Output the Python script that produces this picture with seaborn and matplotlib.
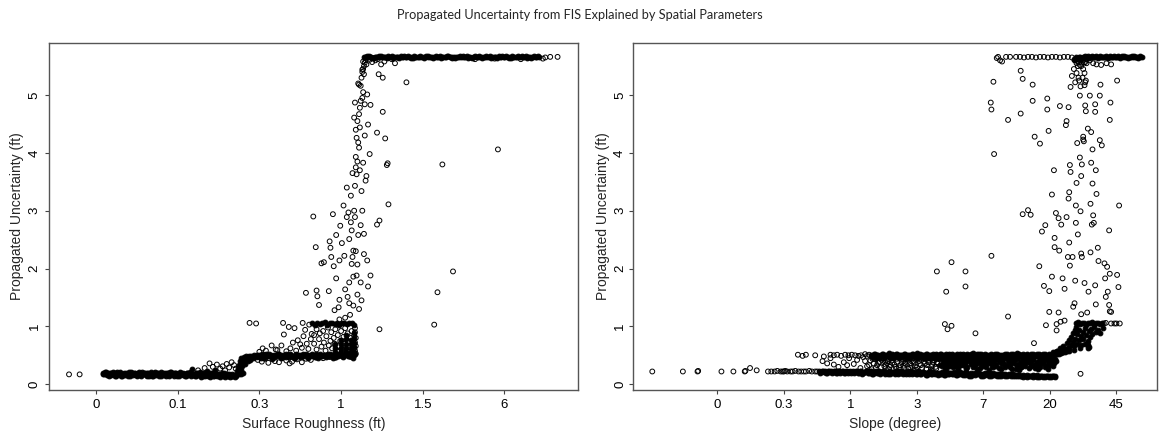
import numpy as np
import pandas as pd
import matplotlib
matplotlib.use("Agg")
import matplotlib.pyplot as plt
import seaborn as sns

# ---------------------------------------------------------------------------
# Axis labelling (x positions are on an ordinal-style axis: tick k sits at k)
# ---------------------------------------------------------------------------
title = "Propagated Uncertainty from FIS Explained by Spatial Parameters"
ylab = "Propagated Uncertainty (ft)"
rough_xlabel = "Surface Roughness (ft)"
slope_xlabel = "Slope (degree)"
rough_tick_labels = ["0", "0.1", "0.3", "1", "1.5", "6"]
slope_tick_labels = ["0", "0.3", "1", "3", "7", "20", "45"]
y_ticks = [0, 1, 2, 3, 4, 5]

# ---------------------------------------------------------------------------
# Left panel: surface roughness position vs propagated uncertainty
# ---------------------------------------------------------------------------
rough_isolated = [(-0.33, 0.17), (-0.20, 0.17)]

rough_low_x = [0.08, 0.10, 0.12, 0.14, 0.16, 0.18, 0.20, 0.22, 0.24, 0.26,
               0.28, 0.30, 0.32, 0.34, 0.36, 0.38, 0.40, 0.42, 0.44, 0.46,
               0.48, 0.50, 0.52, 0.54, 0.56, 0.58, 0.60, 0.62, 0.64, 0.66,
               0.68, 0.70, 0.72, 0.74, 0.76, 0.78, 0.80, 0.82, 0.84, 0.86,
               0.88, 0.90, 0.92, 0.94, 0.96, 0.98, 1.00, 1.02, 1.04, 1.06,
               1.08, 1.10, 1.12, 1.14, 1.16, 1.18, 1.20, 1.22, 1.24, 1.26,
               1.28, 1.30, 1.32, 1.34, 1.36, 1.38, 1.40, 1.42, 1.44, 1.46,
               1.48, 1.50, 1.52, 1.54, 1.56, 1.58, 1.60, 1.62, 1.64, 1.66,
               1.68, 1.70, 1.72]
rough_low_u = [0.20, 0.17, 0.21, 0.18, 0.15, 0.20, 0.17, 0.19, 0.15, 0.21,
               0.17, 0.19, 0.14, 0.20, 0.16, 0.18, 0.21, 0.15, 0.19, 0.17,
               0.20, 0.14, 0.18, 0.16, 0.21, 0.17, 0.19, 0.15, 0.20, 0.17,
               0.18, 0.14, 0.21, 0.16, 0.19, 0.17, 0.15, 0.20, 0.18, 0.14,
               0.19, 0.16, 0.21, 0.17, 0.15, 0.19, 0.18, 0.14, 0.20, 0.16,
               0.18, 0.15, 0.19, 0.17, 0.14, 0.27, 0.18, 0.15, 0.20, 0.16,
               0.13, 0.19, 0.17, 0.14, 0.22, 0.16, 0.13, 0.19, 0.15, 0.25,
               0.14, 0.17, 0.13, 0.20, 0.15, 0.13, 0.18, 0.14, 0.13, 0.17,
               0.14, 0.13, 0.16]
rough_low2_x = [0.09, 0.11, 0.13, 0.15, 0.17, 0.19, 0.21, 0.23, 0.25, 0.27,
                0.29, 0.31, 0.33, 0.35, 0.37, 0.39, 0.41, 0.43, 0.45, 0.47,
                0.49, 0.51, 0.53, 0.55, 0.57, 0.59, 0.61, 0.63, 0.65, 0.67,
                0.69, 0.71, 0.73, 0.75, 0.77, 0.79, 0.81, 0.83, 0.85, 0.87,
                0.89, 0.91, 0.93, 0.95, 0.97, 0.99, 1.01, 1.03, 1.05, 1.07,
                1.09, 1.11, 1.13, 1.15, 1.17, 1.19, 1.21, 1.23, 1.25, 1.27,
                1.29, 1.31, 1.33, 1.35, 1.37, 1.39, 1.41, 1.43, 1.45, 1.47,
                1.49, 1.51, 1.53, 1.55, 1.57, 1.59, 1.61, 1.63, 1.65, 1.67,
                1.69, 1.71]
rough_low2_u = [0.18, 0.21, 0.16, 0.19, 0.20, 0.16, 0.21, 0.15, 0.19, 0.17,
                0.21, 0.15, 0.18, 0.17, 0.20, 0.14, 0.18, 0.21, 0.16, 0.20,
                0.16, 0.19, 0.21, 0.14, 0.18, 0.20, 0.16, 0.19, 0.15, 0.21,
                0.15, 0.19, 0.17, 0.20, 0.14, 0.21, 0.18, 0.16, 0.20, 0.19,
                0.15, 0.21, 0.17, 0.19, 0.20, 0.15, 0.16, 0.21, 0.17, 0.19,
                0.14, 0.20, 0.16, 0.21, 0.18, 0.16, 0.14, 0.19, 0.17, 0.21,
                0.17, 0.14, 0.20, 0.18, 0.15, 0.19, 0.17, 0.14, 0.21, 0.16,
                0.18, 0.14, 0.16, 0.17, 0.19, 0.16, 0.14, 0.17, 0.15, 0.14,
                0.16, 0.14]

rough_low_scatter = [(1.25, 0.24), (1.33, 0.28), (1.39, 0.36), (1.43, 0.30),
                     (1.48, 0.34), (1.52, 0.27), (1.55, 0.31), (1.58, 0.24),
                     (1.60, 0.35), (1.63, 0.29), (1.66, 0.38), (1.69, 0.33),
                     (1.71, 0.27)]

rough_step = [(1.73, 0.22), (1.74, 0.28), (1.75, 0.34), (1.76, 0.40), (1.77, 0.25),
              (1.78, 0.45), (1.79, 0.31), (1.80, 0.38), (1.81, 0.47), (1.82, 0.42),
              (1.83, 0.35), (1.84, 0.48), (1.85, 0.44), (1.86, 0.40), (1.87, 0.49),
              (1.88, 0.46), (1.89, 0.42), (1.90, 0.48), (1.92, 0.45), (1.94, 0.50),
              (1.75, 0.18), (1.78, 0.17), (1.80, 0.20)]

rough_mid_x = [1.96, 1.99, 2.02, 2.05, 2.08, 2.11, 2.14, 2.17, 2.20, 2.23,
               2.26, 2.29, 2.32, 2.35, 2.38, 2.41, 2.44, 2.47, 2.50, 2.53,
               2.56, 2.59, 2.62, 2.65, 2.68, 2.71, 2.74, 2.77, 2.80, 2.83,
               2.86, 2.89, 2.92, 2.95, 2.98, 3.01, 3.04, 3.07, 3.10, 3.13,
               3.16]
rough_mid_u = [0.47, 0.50, 0.45, 0.49, 0.52, 0.48, 0.51, 0.46, 0.50, 0.53,
               0.48, 0.51, 0.47, 0.50, 0.52, 0.49, 0.46, 0.51, 0.50, 0.53,
               0.48, 0.51, 0.49, 0.52, 0.47, 0.50, 0.53, 0.49, 0.51, 0.48,
               0.52, 0.50, 0.47, 0.51, 0.53, 0.49, 0.50, 0.52, 0.48, 0.51,
               0.50]
rough_mid2_x = [1.97, 2.00, 2.03, 2.06, 2.09, 2.12, 2.15, 2.18, 2.21, 2.24,
                2.27, 2.30, 2.33, 2.36, 2.39, 2.42, 2.45, 2.48, 2.51, 2.54,
                2.57, 2.60, 2.63, 2.66, 2.69, 2.72, 2.75, 2.78, 2.81, 2.84,
                2.87, 2.90, 2.93, 2.96, 2.99, 3.02, 3.05, 3.08, 3.11, 3.14,
                3.17]
rough_mid2_u = [0.51, 0.47, 0.52, 0.46, 0.49, 0.53, 0.45, 0.50, 0.48, 0.52,
                0.46, 0.49, 0.53, 0.47, 0.50, 0.45, 0.52, 0.48, 0.47, 0.50,
                0.53, 0.46, 0.51, 0.48, 0.52, 0.46, 0.49, 0.51, 0.47, 0.53,
                0.49, 0.46, 0.52, 0.48, 0.50, 0.47, 0.53, 0.49, 0.51, 0.46,
                0.52]

rough_below_mid = [(1.98, 0.42), (2.03, 0.39), (2.07, 0.44), (2.11, 0.37), (2.16, 0.43),
                   (2.19, 0.40), (2.24, 0.38), (2.28, 0.45), (2.33, 0.41), (2.37, 0.36),
                   (2.40, 0.39), (2.46, 0.43), (2.52, 0.38), (2.57, 0.44), (2.63, 0.42),
                   (2.70, 0.46), (2.78, 0.45), (2.86, 0.47), (2.94, 0.46), (3.03, 0.48),
                   (3.12, 0.47)]

rough_above_mid = [(1.88, 1.06), (1.96, 1.05), (2.00, 0.56), (2.04, 0.62), (2.08, 0.58),
                   (2.15, 0.67), (2.20, 0.60), (2.22, 0.59), (2.27, 0.67), (2.29, 1.06),
                   (2.30, 0.86), (2.33, 0.57), (2.36, 0.99), (2.38, 0.62), (2.41, 0.72),
                   (2.43, 0.97), (2.45, 0.58), (2.47, 0.76), (2.50, 0.69), (2.52, 0.63),
                   (2.53, 1.06), (2.54, 0.83), (2.56, 0.94), (2.58, 0.70), (2.60, 0.61),
                   (2.61, 1.03), (2.63, 0.78), (2.64, 0.87)]

rough_one_x = [2.65, 2.68, 2.71, 2.74, 2.77, 2.80, 2.83, 2.86, 2.89, 2.92,
               2.95, 2.98, 3.01, 3.04, 3.07, 3.10, 3.13, 3.16]
rough_one_u = [1.05, 1.03, 1.06, 1.04, 1.05, 1.07, 1.03, 1.05, 1.06, 1.04,
               1.05, 1.03, 1.06, 1.05, 1.04, 1.06, 1.05, 1.03]

rough_columns = [(2.67, 0.85), (2.67, 0.70), (2.70, 0.95), (2.70, 0.60), (2.73, 0.78),
                 (2.74, 0.88), (2.76, 0.65), (2.78, 0.92), (2.79, 0.72), (2.81, 0.58),
                 (2.82, 0.83), (2.84, 0.98), (2.85, 0.67), (2.87, 0.75), (2.88, 0.90),
                 (2.89, 0.62), (2.91, 0.80), (2.92, 0.70), (2.93, 0.95), (2.95, 0.57),
                 (2.96, 0.85), (2.97, 0.66), (2.99, 0.75), (3.00, 0.92), (3.01, 0.61),
                 (3.03, 0.82), (3.04, 0.70), (3.05, 0.97), (3.07, 0.58), (3.08, 0.88),
                 (3.09, 0.74), (3.10, 0.64), (3.12, 0.80), (3.13, 0.92), (3.14, 0.56),
                 (3.15, 0.68), (3.15, 0.76), (3.16, 0.84), (3.16, 0.62), (3.17, 0.90),
                 (3.17, 0.97), (3.17, 0.72), (3.17, 0.58), (3.18, 0.53), (3.18, 0.80),
                 (3.18, 0.66)]

rough_dense_columns = [(2.92, 0.56), (2.92, 0.63), (2.92, 0.70), (3.00, 0.55), (3.00, 0.62),
                       (3.00, 0.69), (3.00, 0.76), (3.06, 0.56), (3.06, 0.63), (3.06, 0.70),
                       (3.06, 0.78), (3.06, 0.85), (3.12, 0.55), (3.12, 0.62), (3.12, 0.69),
                       (3.12, 0.76), (3.16, 0.56), (3.16, 0.64), (3.16, 0.72), (3.16, 0.80),
                       (3.16, 0.88)]

rough_rise = [(2.66, 2.90), (2.69, 2.37), (2.57, 1.58), (2.70, 1.62), (2.71, 1.52),
              (2.73, 1.37), (2.76, 2.09), (2.79, 2.11), (2.85, 1.61), (2.86, 2.47),
              (2.87, 2.36), (2.88, 2.20), (2.90, 2.94), (2.91, 2.04), (2.92, 1.28),
              (2.94, 2.58), (2.94, 1.83), (2.97, 1.33), (2.98, 2.14), (2.98, 1.46),
              (2.99, 2.74), (3.01, 2.44), (3.03, 3.09), (3.04, 2.22), (3.05, 1.64),
              (3.07, 2.89), (3.08, 1.51), (3.09, 2.97), (3.10, 2.51), (3.10, 1.40),
              (3.12, 2.80), (3.13, 2.08), (3.13, 2.66), (3.15, 2.31), (3.15, 1.36),
              (3.16, 3.00), (3.17, 3.43), (3.18, 3.75), (3.18, 3.93), (3.19, 3.63),
              (3.21, 4.18), (3.22, 4.67), (3.23, 4.44), (3.24, 4.90), (3.24, 5.16),
              (3.25, 3.34), (3.26, 3.00), (3.27, 3.83), (3.28, 2.60), (3.28, 5.36),
              (3.29, 4.84), (3.30, 3.52), (3.31, 5.53), (3.32, 5.01), (3.33, 4.49),
              (3.32, 2.14), (3.28, 2.25), (3.17, 2.89), (3.07, 3.40), (3.12, 3.26),
              (3.19, 4.26), (3.16, 4.61), (3.17, 4.87), (3.22, 4.09), (3.22, 5.18),
              (3.26, 5.44), (3.19, 1.88), (3.24, 1.76), (3.15, 1.86), (3.10, 1.76),
              (3.20, 2.07), (3.20, 4.55), (3.23, 4.78), (3.26, 4.95), (3.21, 5.20),
              (3.25, 5.30), (3.27, 5.05), (3.18, 4.40), (3.20, 3.85), (3.14, 3.65),
              (3.23, 3.70), (3.29, 4.30), (3.31, 3.60), (3.24, 2.75), (3.21, 2.58),
              (3.18, 2.30), (3.14, 2.20), (3.20, 1.55), (3.11, 1.20), (3.05, 1.15),
              (2.98, 1.12), (3.22, 1.30), (3.25, 1.45)]

rough_outliers = [(3.35, 3.98), (3.36, 4.83), (3.36, 1.88), (3.33, 1.69), (3.44, 4.35),
                  (3.44, 2.76), (3.47, 2.83), (3.46, 5.36), (3.51, 5.30), (3.51, 4.71),
                  (3.54, 4.25), (3.56, 3.79), (3.57, 3.82), (3.58, 3.11), (3.47, 0.95),
                  (3.66, 5.55), (3.80, 5.22), (4.14, 1.03), (4.18, 1.59), (4.24, 3.80),
                  (4.37, 1.95), (4.92, 4.06)]

rough_top_x = [3.28, 3.31, 3.34, 3.37, 3.40, 3.43, 3.46, 3.49, 3.52, 3.55,
               3.58, 3.61, 3.64, 3.67, 3.70, 3.73, 3.76, 3.79, 3.82, 3.85,
               3.88, 3.91, 3.94, 3.97, 4.00, 4.03, 4.06, 4.09, 4.12, 4.15,
               4.18, 4.21, 4.24, 4.27, 4.30, 4.33, 4.36, 4.39, 4.42, 4.45,
               4.48, 4.51, 4.54, 4.57, 4.60, 4.63, 4.66, 4.69, 4.72, 4.75,
               4.78, 4.81, 4.84, 4.87, 4.90, 4.93, 4.96, 4.99, 5.02, 5.05,
               5.08, 5.11, 5.14, 5.17, 5.20, 5.23, 5.26, 5.29, 5.32, 5.35,
               5.38, 5.41]
rough_top_u = [5.66, 5.65, 5.67, 5.66, 5.64, 5.66, 5.65, 5.67, 5.66, 5.65,
               5.67, 5.66, 5.64, 5.66, 5.65, 5.67, 5.66, 5.65, 5.67, 5.66,
               5.64, 5.66, 5.65, 5.67, 5.66, 5.65, 5.67, 5.66, 5.64, 5.66,
               5.65, 5.67, 5.66, 5.65, 5.67, 5.66, 5.64, 5.66, 5.65, 5.67,
               5.66, 5.65, 5.67, 5.66, 5.64, 5.66, 5.65, 5.67, 5.66, 5.65,
               5.67, 5.66, 5.64, 5.66, 5.65, 5.67, 5.66, 5.65, 5.67, 5.66,
               5.64, 5.66, 5.65, 5.67, 5.66, 5.65, 5.67, 5.66, 5.64, 5.66,
               5.65, 5.67]
rough_top2_x = [3.29, 3.32, 3.35, 3.38, 3.41, 3.44, 3.47, 3.50, 3.53, 3.56,
                3.59, 3.62, 3.65, 3.68, 3.71, 3.74, 3.77, 3.80, 3.83, 3.86,
                3.89, 3.92, 3.95, 3.98, 4.01, 4.04, 4.07, 4.10, 4.13, 4.16,
                4.19, 4.22, 4.25, 4.28, 4.31, 4.34, 4.37, 4.40, 4.43, 4.46,
                4.49, 4.52, 4.55, 4.58, 4.61, 4.64, 4.67, 4.70, 4.73, 4.76,
                4.79, 4.82, 4.85, 4.88, 4.91, 4.94, 4.97, 5.00, 5.03, 5.06,
                5.09, 5.12, 5.15, 5.18, 5.21, 5.24, 5.27, 5.30, 5.33, 5.36,
                5.39, 5.42]
rough_top2_u = [5.65, 5.67, 5.66, 5.64, 5.66, 5.65, 5.67, 5.66, 5.65, 5.64,
                5.66, 5.67, 5.65, 5.66, 5.64, 5.66, 5.67, 5.65, 5.66, 5.64,
                5.67, 5.65, 5.66, 5.66, 5.64, 5.67, 5.65, 5.66, 5.65, 5.67,
                5.66, 5.64, 5.65, 5.66, 5.67, 5.65, 5.66, 5.64, 5.66, 5.65,
                5.67, 5.66, 5.64, 5.65, 5.66, 5.67, 5.65, 5.66, 5.64, 5.66,
                5.65, 5.67, 5.66, 5.65, 5.64, 5.66, 5.67, 5.65, 5.66, 5.64,
                5.67, 5.65, 5.66, 5.65, 5.67, 5.66, 5.64, 5.65, 5.66, 5.67,
                5.65, 5.66]

rough_top_end = [(5.50, 5.65), (5.56, 5.66), (5.65, 5.66)]

rough_top_below = [(3.35, 5.61), (3.38, 5.57), (3.42, 5.60), (3.49, 5.53), (3.53, 5.58),
                   (3.62, 5.62), (4.64, 5.62), (4.88, 5.63), (5.20, 5.62), (5.47, 5.63),
                   (3.27, 5.45), (3.28, 5.50), (3.29, 5.56), (3.30, 5.60), (3.27, 5.58),
                   (3.31, 5.63), (3.26, 5.40), (3.40, 5.64), (3.45, 5.62)]

# ---------------------------------------------------------------------------
# Right panel: slope position vs propagated uncertainty
# ---------------------------------------------------------------------------
slope_low_sparse_x = [-0.98, -0.52, -0.30, -0.29, 0.06, 0.24, 0.41, 0.42, 0.49, 0.59,
                      0.76, 0.81, 0.86, 0.90, 0.95, 0.98, 1.00, 1.02, 1.05, 1.10,
                      1.13, 1.17, 1.22, 1.26, 1.30, 1.33, 1.38, 1.42, 1.47, 1.50]
slope_low_sparse_u = [0.22, 0.22, 0.22, 0.23, 0.22, 0.22, 0.22, 0.23, 0.28, 0.24,
                      0.22, 0.22, 0.22, 0.23, 0.22, 0.22, 0.22, 0.23, 0.22, 0.22,
                      0.22, 0.23, 0.22, 0.22, 0.22, 0.22, 0.23, 0.22, 0.22, 0.22]

slope_low_x = [1.53, 1.56, 1.59, 1.62, 1.65, 1.68, 1.71, 1.74, 1.77, 1.80,
               1.83, 1.86, 1.89, 1.92, 1.95, 1.98, 2.01, 2.04, 2.07, 2.10,
               2.13, 2.16, 2.19, 2.22, 2.25, 2.28, 2.31, 2.34, 2.37, 2.40,
               2.43, 2.46, 2.49, 2.52, 2.55, 2.58, 2.61, 2.64, 2.67, 2.70,
               2.73, 2.76, 2.79, 2.82, 2.85, 2.88, 2.91, 2.94, 2.97, 3.00,
               3.03, 3.06, 3.09, 3.12, 3.15, 3.18, 3.21, 3.24, 3.27, 3.30,
               3.33, 3.36, 3.39, 3.42, 3.45, 3.48, 3.51, 3.54, 3.57, 3.60,
               3.63, 3.66, 3.69, 3.72, 3.75, 3.78, 3.81, 3.84, 3.87, 3.90,
               3.93, 3.96, 3.99, 4.02, 4.05, 4.08, 4.11, 4.14, 4.17, 4.20,
               4.23, 4.26, 4.29, 4.32, 4.35, 4.38, 4.41, 4.44, 4.47, 4.50,
               4.53, 4.56, 4.59, 4.62, 4.65, 4.68, 4.71, 4.74, 4.77, 4.80,
               4.83, 4.86, 4.89, 4.92, 4.95, 4.98, 5.01, 5.04, 5.07]
slope_low_u = [0.22, 0.21, 0.23, 0.22, 0.20, 0.22, 0.23, 0.21, 0.22, 0.20,
               0.22, 0.21, 0.23, 0.20, 0.22, 0.21, 0.19, 0.22, 0.21, 0.23,
               0.20, 0.22, 0.19, 0.21, 0.23, 0.20, 0.22, 0.18, 0.21, 0.20,
               0.22, 0.19, 0.21, 0.17, 0.20, 0.22, 0.19, 0.21, 0.18, 0.20,
               0.22, 0.19, 0.17, 0.21, 0.20, 0.18, 0.22, 0.19, 0.21, 0.17,
               0.20, 0.18, 0.21, 0.19, 0.16, 0.20, 0.18, 0.21, 0.17, 0.19,
               0.20, 0.17, 0.19, 0.16, 0.21, 0.18, 0.20, 0.17, 0.19, 0.16,
               0.18, 0.20, 0.16, 0.19, 0.17, 0.15, 0.19, 0.18, 0.16, 0.20,
               0.17, 0.15, 0.18, 0.16, 0.19, 0.15, 0.17, 0.16, 0.18, 0.15,
               0.17, 0.15, 0.16, 0.18, 0.14, 0.16, 0.17, 0.15, 0.14, 0.16,
               0.15, 0.14, 0.16, 0.15, 0.13, 0.15, 0.14, 0.16, 0.14, 0.13,
               0.15, 0.14, 0.13, 0.15, 0.14, 0.13, 0.14, 0.15, 0.14]
slope_low2_x = [1.54, 1.57, 1.60, 1.63, 1.66, 1.69, 1.72, 1.75, 1.78, 1.81,
                1.84, 1.87, 1.90, 1.93, 1.96, 1.99, 2.02, 2.05, 2.08, 2.11,
                2.14, 2.17, 2.20, 2.23, 2.26, 2.29, 2.32, 2.35, 2.38, 2.41,
                2.44, 2.47, 2.50, 2.53, 2.56, 2.59, 2.62, 2.65, 2.68, 2.71,
                2.74, 2.77, 2.80, 2.83, 2.86, 2.89, 2.92, 2.95, 2.98, 3.01,
                3.04, 3.07, 3.10, 3.13, 3.16, 3.19, 3.22, 3.25, 3.28, 3.31,
                3.34, 3.37, 3.40, 3.43, 3.46, 3.49, 3.52, 3.55, 3.58, 3.61,
                3.64, 3.67, 3.70, 3.73, 3.76, 3.79, 3.82, 3.85, 3.88, 3.91,
                3.94, 3.97, 4.00, 4.03, 4.06, 4.09, 4.12, 4.15, 4.18, 4.21,
                4.24, 4.27, 4.30, 4.33, 4.36, 4.39, 4.42, 4.45, 4.48, 4.51,
                4.54, 4.57, 4.60, 4.63, 4.66, 4.69, 4.72, 4.75, 4.78, 4.81,
                4.84, 4.87, 4.90, 4.93, 4.96, 4.99, 5.02, 5.05, 5.08]
slope_low2_u = [0.20, 0.23, 0.21, 0.19, 0.22, 0.21, 0.19, 0.23, 0.20, 0.22,
                0.20, 0.23, 0.19, 0.22, 0.20, 0.23, 0.21, 0.19, 0.23, 0.20,
                0.22, 0.18, 0.21, 0.23, 0.19, 0.22, 0.18, 0.21, 0.23, 0.19,
                0.18, 0.21, 0.23, 0.20, 0.18, 0.17, 0.21, 0.19, 0.22, 0.17,
                0.19, 0.22, 0.20, 0.18, 0.23, 0.21, 0.17, 0.20, 0.18, 0.22,
                0.17, 0.21, 0.19, 0.16, 0.20, 0.22, 0.17, 0.19, 0.20, 0.16,
                0.18, 0.21, 0.16, 0.19, 0.17, 0.20, 0.18, 0.21, 0.16, 0.19,
                0.21, 0.17, 0.19, 0.16, 0.20, 0.18, 0.15, 0.17, 0.19, 0.17,
                0.19, 0.17, 0.15, 0.19, 0.17, 0.18, 0.15, 0.19, 0.16, 0.18,
                0.15, 0.18, 0.17, 0.14, 0.16, 0.18, 0.15, 0.17, 0.16, 0.14,
                0.16, 0.15, 0.13, 0.14, 0.16, 0.14, 0.15, 0.13, 0.15, 0.16,
                0.13, 0.15, 0.14, 0.13, 0.15, 0.14, 0.13, 0.15, 0.13]

slope_mid_sparse = [(1.21, 0.51), (1.28, 0.49), (1.33, 0.51), (1.47, 0.50), (1.60, 0.48),
                    (1.70, 0.51), (1.75, 0.50), (1.80, 0.51), (1.86, 0.49), (1.92, 0.51),
                    (1.97, 0.50), (2.02, 0.51), (2.07, 0.50), (2.12, 0.49), (2.16, 0.50),
                    (2.19, 0.47), (2.22, 0.52), (2.25, 0.49), (2.28, 0.51)]

slope_mid_x = [2.31, 2.34, 2.37, 2.40, 2.43,
               2.46, 2.49, 2.52, 2.55, 2.58, 2.61, 2.64, 2.67, 2.70, 2.73,
               2.76, 2.79, 2.82, 2.85, 2.88, 2.91, 2.94, 2.97, 3.00, 3.03,
               3.06, 3.09, 3.12, 3.15, 3.18, 3.21, 3.24, 3.27, 3.30, 3.33,
               3.36, 3.39, 3.42, 3.45, 3.48, 3.51, 3.54, 3.57, 3.60, 3.63,
               3.66, 3.69, 3.72, 3.75, 3.78, 3.81, 3.84, 3.87, 3.90, 3.93,
               3.96, 3.99, 4.02, 4.05, 4.08, 4.11, 4.14, 4.17, 4.20, 4.23,
               4.26, 4.29, 4.32, 4.35, 4.38, 4.41, 4.44, 4.47, 4.50, 4.53,
               4.56, 4.59, 4.62, 4.65, 4.68, 4.71, 4.74, 4.77, 4.80, 4.83,
               4.86, 4.89, 4.92, 4.95, 4.98, 5.01, 5.04, 5.07, 5.10, 5.13,
               5.16, 5.19, 5.22, 5.25, 5.28]
slope_mid_u = [0.51, 0.48, 0.53, 0.50, 0.46,
               0.49, 0.52, 0.47, 0.50, 0.54, 0.46, 0.51, 0.48, 0.52, 0.45,
               0.51, 0.48, 0.53, 0.46, 0.50, 0.49, 0.52, 0.47, 0.54, 0.50,
               0.47, 0.51, 0.49, 0.53, 0.45, 0.50, 0.52, 0.48, 0.51, 0.46,
               0.52, 0.49, 0.46, 0.51, 0.53, 0.48, 0.50, 0.45, 0.52, 0.49,
               0.48, 0.53, 0.50, 0.46, 0.51, 0.49, 0.54, 0.47, 0.50, 0.52,
               0.46, 0.50, 0.52, 0.48, 0.51, 0.45, 0.49, 0.53, 0.47, 0.51,
               0.50, 0.47, 0.53, 0.49, 0.46, 0.52, 0.48, 0.51, 0.54, 0.49,
               0.51, 0.46, 0.50, 0.53, 0.48, 0.52, 0.47, 0.50, 0.49, 0.53,
               0.48, 0.52, 0.50, 0.46, 0.53, 0.51, 0.49, 0.55, 0.52, 0.56,
               0.54, 0.58, 0.56, 0.60, 0.57]
slope_mid2_x = [2.32, 2.35, 2.38, 2.41, 2.44,
                2.47, 2.50, 2.53, 2.56, 2.59, 2.62, 2.65, 2.68, 2.71, 2.74,
                2.77, 2.80, 2.83, 2.86, 2.89, 2.92, 2.95, 2.98, 3.01, 3.04,
                3.07, 3.10, 3.13, 3.16, 3.19, 3.22, 3.25, 3.28, 3.31, 3.34,
                3.37, 3.40, 3.43, 3.46, 3.49, 3.52, 3.55, 3.58, 3.61, 3.64,
                3.67, 3.70, 3.73, 3.76, 3.79, 3.82, 3.85, 3.88, 3.91, 3.94,
                3.97, 4.00, 4.03, 4.06, 4.09, 4.12, 4.15, 4.18, 4.21, 4.24,
                4.27, 4.30, 4.33, 4.36, 4.39, 4.42, 4.45, 4.48, 4.51, 4.54,
                4.57, 4.60, 4.63, 4.66, 4.69, 4.72, 4.75, 4.78, 4.81, 4.84,
                4.87, 4.90, 4.93, 4.96, 4.99, 5.02, 5.05, 5.08, 5.11, 5.14,
                5.17, 5.20, 5.23, 5.26, 5.29]
slope_mid2_u = [0.47, 0.53, 0.45, 0.51, 0.49,
                0.52, 0.46, 0.50, 0.48, 0.45, 0.52, 0.47, 0.53, 0.49, 0.51,
                0.47, 0.52, 0.49, 0.51, 0.45, 0.53, 0.48, 0.50, 0.46, 0.52,
                0.50, 0.46, 0.53, 0.48, 0.51, 0.47, 0.45, 0.52, 0.49, 0.53,
                0.46, 0.51, 0.53, 0.48, 0.50, 0.52, 0.46, 0.51, 0.47, 0.53,
                0.51, 0.47, 0.45, 0.52, 0.48, 0.53, 0.46, 0.50, 0.52, 0.47,
                0.52, 0.48, 0.46, 0.51, 0.47, 0.53, 0.50, 0.46, 0.52, 0.48,
                0.47, 0.51, 0.49, 0.52, 0.45, 0.48, 0.53, 0.47, 0.50, 0.52,
                0.49, 0.53, 0.47, 0.51, 0.46, 0.50, 0.52, 0.48, 0.53, 0.47,
                0.51, 0.47, 0.53, 0.49, 0.50, 0.48, 0.52, 0.53, 0.57, 0.55,
                0.59, 0.55, 0.61, 0.58, 0.63]

slope_between = [(2.22, 0.40), (2.28, 0.33), (2.33, 0.44), (2.38, 0.28), (2.42, 0.37),
                 (2.47, 0.42), (2.51, 0.31), (2.55, 0.36), (2.58, 0.26), (2.62, 0.41),
                 (2.66, 0.34), (2.70, 0.44), (2.73, 0.29), (2.77, 0.38), (2.80, 0.32),
                 (2.84, 0.43), (2.87, 0.27), (2.90, 0.36), (2.94, 0.40), (2.97, 0.31),
                 (3.01, 0.45), (3.04, 0.35), (3.08, 0.28), (3.11, 0.39), (3.15, 0.33),
                 (3.18, 0.42), (3.21, 0.25), (3.25, 0.37), (3.28, 0.30), (3.32, 0.44),
                 (2.35, 0.36), (2.52, 0.39), (2.68, 0.30), (2.82, 0.37), (2.99, 0.25),
                 (3.13, 0.44), (3.30, 0.38), (3.22, 0.31), (2.90, 0.28), (2.60, 0.33),
                 (1.58, 0.40), (1.65, 0.36), (1.75, 0.34), (1.82, 0.30), (1.90, 0.38),
                 (1.95, 0.33), (2.05, 0.35), (2.10, 0.42), (2.15, 0.28), (1.70, 0.45),
                 (1.98, 0.45), (5.46, 0.18),
                 (2.25, 0.31), (2.30, 0.41), (2.32, 0.26), (2.37, 0.43), (2.40, 0.33),
                 (2.44, 0.38), (2.46, 0.29), (2.49, 0.45), (2.53, 0.34), (2.56, 0.40),
                 (2.59, 0.30), (2.63, 0.37), (2.65, 0.45), (2.69, 0.27), (2.71, 0.39),
                 (2.75, 0.33), (2.78, 0.43), (2.81, 0.28), (2.83, 0.35), (2.86, 0.40)]

slope_between_dense = [(3.35, 0.34), (3.39, 0.39), (3.42, 0.27), (3.46, 0.41), (3.49, 0.32),
                       (3.53, 0.36), (3.56, 0.43), (3.60, 0.29), (3.63, 0.38), (3.67, 0.33),
                       (3.70, 0.45), (3.74, 0.26), (3.77, 0.40), (3.81, 0.35), (3.84, 0.30),
                       (3.88, 0.42), (3.91, 0.37), (3.95, 0.28), (3.98, 0.44), (4.02, 0.33),
                       (4.05, 0.39), (4.09, 0.25), (4.12, 0.36), (4.16, 0.42), (4.19, 0.31),
                       (4.23, 0.38), (4.26, 0.27), (4.30, 0.44), (4.33, 0.34), (4.37, 0.40),
                       (4.40, 0.29), (4.44, 0.37), (4.47, 0.43), (4.51, 0.32), (4.54, 0.24),
                       (4.58, 0.39), (4.61, 0.35), (4.65, 0.45), (4.68, 0.28), (4.72, 0.41),
                       (4.75, 0.33), (4.79, 0.38), (4.82, 0.26), (4.86, 0.43), (4.89, 0.36),
                       (4.93, 0.30), (4.96, 0.42), (5.00, 0.34), (5.04, 0.39), (5.08, 0.44),
                       (3.44, 0.33), (3.58, 0.40), (3.72, 0.31), (3.86, 0.36), (4.00, 0.41),
                       (4.14, 0.29), (4.28, 0.35), (4.42, 0.41), (4.56, 0.30), (4.70, 0.36),
                       (4.84, 0.32), (4.98, 0.38), (3.65, 0.43), (4.07, 0.45), (4.49, 0.27),
                       (3.37, 0.31), (3.40, 0.37), (3.43, 0.45), (3.45, 0.29), (3.48, 0.39),
                       (3.51, 0.44), (3.54, 0.30), (3.57, 0.35), (3.59, 0.41), (3.62, 0.26),
                       (3.65, 0.34), (3.68, 0.40), (3.71, 0.44), (3.73, 0.36), (3.76, 0.29),
                       (3.79, 0.43), (3.82, 0.38), (3.85, 0.45), (3.87, 0.33), (3.90, 0.27),
                       (3.93, 0.40), (3.96, 0.35), (3.99, 0.31), (4.01, 0.45), (4.04, 0.29),
                       (4.07, 0.37), (4.10, 0.43), (4.13, 0.32), (4.15, 0.40), (4.18, 0.35),
                       (4.21, 0.44), (4.24, 0.28), (4.27, 0.41), (4.29, 0.37), (4.32, 0.30),
                       (4.35, 0.45), (4.38, 0.34), (4.41, 0.39), (4.43, 0.26), (4.46, 0.42),
                       (4.49, 0.35), (4.52, 0.44), (4.55, 0.37), (4.57, 0.29), (4.60, 0.42),
                       (4.63, 0.32), (4.66, 0.39), (4.69, 0.45), (4.71, 0.31), (4.74, 0.43),
                       (4.77, 0.28), (4.80, 0.35), (4.83, 0.41), (4.85, 0.29), (4.88, 0.39),
                       (4.91, 0.44), (4.94, 0.33), (4.97, 0.27), (4.99, 0.40), (5.02, 0.46),
                       (5.05, 0.31), (5.06, 0.37), (5.09, 0.41)]

slope_between_mid = [(2.89, 0.45), (2.92, 0.32), (2.95, 0.37), (2.98, 0.42), (3.00, 0.29),
                     (3.03, 0.40), (3.06, 0.33), (3.09, 0.44), (3.12, 0.36), (3.14, 0.27),
                     (3.17, 0.38), (3.19, 0.45), (3.23, 0.34), (3.26, 0.41), (3.29, 0.27),
                     (3.31, 0.36), (3.34, 0.43)]

slope_rise = [(5.05, 0.55), (5.10, 0.58), (5.13, 0.52), (5.15, 0.62), (5.18, 0.55),
              (5.20, 0.66), (5.23, 0.59), (5.25, 0.71), (5.27, 0.63), (5.29, 0.76),
              (5.31, 0.68), (5.32, 0.82), (5.34, 0.73), (5.35, 0.88), (5.36, 0.60),
              (5.37, 0.94), (5.38, 0.79), (5.39, 0.99), (5.40, 0.70), (5.41, 0.86),
              (5.43, 0.93), (5.44, 0.76), (5.46, 0.84), (5.47, 0.67), (5.49, 0.90),
              (5.50, 0.78), (5.52, 0.98), (5.54, 0.85), (5.56, 0.72), (5.58, 0.92),
              (5.60, 0.81), (5.62, 0.95), (5.64, 0.87), (5.66, 0.99), (5.69, 0.90),
              (5.72, 0.94), (5.76, 0.88), (5.80, 0.97), (5.36, 0.66), (5.45, 0.62),
              (5.52, 0.70), (5.58, 0.65), (5.57, 0.62), (5.57, 0.68), (5.57, 0.74)]

slope_one_x = [5.39, 5.42, 5.45, 5.48, 5.51, 5.54, 5.57, 5.60, 5.63, 5.66,
               5.69, 5.72, 5.75, 5.78]
slope_one_u = [1.05, 1.07, 1.04, 1.06, 1.05, 1.03, 1.06, 1.05, 1.07, 1.04,
               1.05, 1.06, 1.04, 1.05]
slope_one_end = [(5.81, 1.05), (5.84, 1.06), (5.92, 1.05), (5.97, 1.05), (6.00, 1.05),
                 (6.05, 1.05)]

slope_scatter = [(3.30, 1.95), (3.44, 1.60), (3.52, 2.11), (3.42, 1.04), (3.46, 0.95),
                 (3.52, 1.01), (3.73, 1.95), (3.73, 1.69), (3.88, 0.88), (4.11, 4.87),
                 (4.12, 4.75), (4.15, 5.23), (4.16, 3.98), (4.12, 2.22), (4.37, 4.57),
                 (4.37, 1.17), (4.56, 5.42), (4.59, 5.28), (4.56, 4.68), (4.59, 2.94),
                 (4.67, 3.01), (4.71, 2.93), (4.74, 5.18), (4.74, 4.90), (4.77, 4.28),
                 (4.76, 0.71), (4.84, 2.04), (4.85, 4.16), (4.88, 2.64), (4.91, 1.70),
                 (4.93, 2.75), (4.96, 4.94), (4.96, 4.75), (4.98, 4.38), (4.99, 1.61),
                 (4.99, 1.25), (4.94, 1.02), (5.03, 3.28), (5.03, 1.86), (5.06, 3.70),
                 (5.07, 2.53), (5.07, 2.37), (5.09, 2.96), (5.10, 0.93), (5.10, 1.04),
                 (5.13, 1.24), (5.13, 2.87), (5.14, 2.31), (5.15, 4.81), (5.16, 1.08),
                 (5.17, 2.76), (5.19, 1.83), (5.22, 1.65), (5.22, 1.10), (5.24, 4.48),
                 (5.25, 4.55), (5.25, 2.89), (5.27, 2.20), (5.28, 4.79), (5.28, 3.21),
                 (5.29, 3.32), (5.29, 2.45), (5.30, 2.05), (5.30, 3.79), (5.31, 3.67),
                 (5.31, 5.14), (5.33, 5.33), (5.34, 2.20), (5.35, 1.34), (5.37, 1.40),
                 (5.39, 2.79), (5.39, 3.09), (5.40, 3.48), (5.38, 1.79), (5.41, 4.17),
                 (5.42, 2.59), (5.45, 3.92), (5.45, 4.99), (5.46, 2.99), (5.47, 1.21),
                 (5.47, 3.60), (5.47, 2.26), (5.48, 2.20), (5.48, 3.80), (5.50, 4.28),
                 (5.50, 4.23), (5.51, 4.20), (5.52, 1.75), (5.52, 5.17), (5.53, 4.82),
                 (5.54, 4.72), (5.54, 5.25), (5.56, 1.24), (5.57, 4.42), (5.58, 1.60),
                 (5.60, 4.99), (5.61, 3.12), (5.61, 2.28), (5.62, 4.36), (5.62, 3.83),
                 (5.63, 2.76), (5.64, 4.06), (5.64, 3.47), (5.65, 2.92), (5.66, 2.79),
                 (5.68, 4.84), (5.68, 4.71), (5.68, 1.71), (5.69, 1.38), (5.69, 3.70),
                 (5.70, 3.29), (5.72, 2.36), (5.73, 2.13), (5.75, 4.99), (5.75, 4.22),
                 (5.76, 5.18), (5.77, 5.52), (5.78, 4.13), (5.82, 2.09), (5.83, 1.83),
                 (5.84, 1.51), (5.86, 2.03), (5.87, 1.60), (5.89, 2.66), (5.89, 1.37),
                 (5.90, 1.26), (5.90, 4.57), (5.91, 4.87), (5.92, 5.53), (5.90, 1.91),
                 (5.92, 1.25), (6.01, 1.89), (6.01, 5.25), (6.03, 1.68), (6.04, 3.09),
                 (5.36, 5.45), (5.40, 5.38), (5.43, 5.30), (5.38, 5.22), (5.46, 5.15),
                 (5.42, 5.50), (5.44, 5.25), (5.47, 5.50), (5.50, 5.45), (5.52, 5.38),
                 (5.49, 5.30), (5.53, 5.22), (5.51, 5.56), (5.55, 5.55)]

slope_top_sparse = [(4.20, 5.64), (4.22, 5.66), (4.25, 5.60), (4.28, 5.58), (4.34, 5.66),
                    (4.40, 5.66), (4.49, 5.66), (4.55, 5.66), (4.61, 5.65), (4.67, 5.66),
                    (4.73, 5.66), (4.79, 5.65), (4.85, 5.66), (4.91, 5.66), (4.97, 5.65),
                    (5.03, 5.66), (5.09, 5.66), (5.15, 5.65), (5.21, 5.66), (5.27, 5.66),
                    (5.33, 5.65)]

slope_top_x = [5.36, 5.39, 5.42, 5.45, 5.48, 5.51, 5.54, 5.57, 5.60, 5.63,
               5.66, 5.69, 5.72, 5.75, 5.78, 5.81, 5.84, 5.87, 5.90, 5.93,
               5.96, 5.99, 6.02, 6.05, 6.08, 6.11, 6.14, 6.17, 6.20, 6.23,
               6.26, 6.29, 6.32, 6.35, 6.38]
slope_top_u = [5.63, 5.65, 5.62, 5.66, 5.64, 5.66, 5.65, 5.67, 5.66, 5.65,
               5.66, 5.67, 5.65, 5.66, 5.66, 5.65, 5.67, 5.66, 5.65, 5.66,
               5.67, 5.66, 5.65, 5.66, 5.67, 5.65, 5.66, 5.66, 5.65, 5.67,
               5.66, 5.65, 5.66, 5.67, 5.66]
slope_top2_x = [5.37, 5.40, 5.43, 5.46, 5.49, 5.52, 5.55, 5.58, 5.61, 5.64,
                5.67, 5.70, 5.73, 5.76, 5.79, 5.82, 5.85, 5.88, 5.91, 5.94,
                5.97, 6.00, 6.03, 6.06, 6.09, 6.12, 6.15, 6.18, 6.21, 6.24,
                6.27, 6.30, 6.33, 6.36]
slope_top2_u = [5.61, 5.64, 5.66, 5.63, 5.65, 5.67, 5.66, 5.64, 5.65, 5.67,
                5.65, 5.66, 5.64, 5.67, 5.65, 5.66, 5.65, 5.64, 5.67, 5.65,
                5.66, 5.65, 5.67, 5.64, 5.66, 5.67, 5.65, 5.64, 5.66, 5.65,
                5.67, 5.66, 5.64, 5.65]

slope_top_below = [(5.37, 5.60), (5.40, 5.55), (5.42, 5.58), (5.45, 5.52), (5.48, 5.56),
                   (5.50, 5.60), (5.53, 5.57), (5.55, 5.62), (5.60, 5.60), (5.65, 5.55),
                   (5.70, 5.53), (5.85, 5.55)]


def frame(dense, *parts):
    xs, us = [], []
    for p in parts:
        if isinstance(p, tuple):
            xs.extend(p[0]); us.extend(p[1])
        else:
            xs.extend([a for a, _ in p]); us.extend([b for _, b in p])
    return pd.DataFrame({"pos": xs, "unc": us, "dense": dense})


# open circles where they stand apart; overlapping circles of the solid bands
rough_df = pd.concat([
    frame(False, rough_isolated, rough_low_scatter, rough_below_mid, rough_above_mid,
          rough_columns, rough_rise, rough_outliers, rough_top_end, rough_top_below),
    frame(True, (rough_low_x, rough_low_u), (rough_low2_x, rough_low2_u), rough_step,
          (rough_mid_x, rough_mid_u), (rough_mid2_x, rough_mid2_u),
          (rough_one_x, rough_one_u), rough_dense_columns,
          (rough_top_x, rough_top_u), (rough_top2_x, rough_top2_u)),
], ignore_index=True)
slope_df = pd.concat([
    frame(False, (slope_low_sparse_x, slope_low_sparse_u), slope_mid_sparse, slope_between,
          slope_between_mid, slope_one_end, slope_scatter, slope_top_sparse,
          slope_top_below),
    frame(True, (slope_low_x, slope_low_u), (slope_low2_x, slope_low2_u),
          (slope_mid_x, slope_mid_u), (slope_mid2_x, slope_mid2_u), slope_between_dense,
          slope_rise, (slope_one_x, slope_one_u), (slope_top_x, slope_top_u),
          (slope_top2_x, slope_top2_u)),
], ignore_index=True)

# ---------------------------------------------------------------------------
sns.set_style("ticks")
plt.rcParams["font.family"] = ["Liberation Sans", "DejaVu Sans"]

fig = plt.figure(figsize=(11.6, 4.38), dpi=100)
ax_l = fig.add_axes([49 / 1160, 1 - 390 / 438, 529 / 1160, 347 / 438])
ax_r = fig.add_axes([633 / 1160, 1 - 390 / 438, 524 / 1160, 347 / 438])

open_kw = dict(marker="o", s=12, facecolor="none", edgecolor="black",
               linewidth=0.7, legend=False)
dense_kw = dict(marker="o", s=12, facecolor="black", edgecolor="black",
                linewidth=0.7, legend=False)

panels = [
    (ax_l, rough_df, rough_tick_labels, rough_xlabel, (-0.575, 5.90), -0.047, 2.8),
    (ax_r, slope_df, slope_tick_labels, slope_xlabel, (-1.27, 6.61), -0.044, 1.8),
]
for ax, df, labels, xlabel, xlim, ylab_x, ypad in panels:
    sns.scatterplot(data=df[df["dense"]], x="pos", y="unc", ax=ax, **dense_kw)
    sns.scatterplot(data=df[~df["dense"]], x="pos", y="unc", ax=ax, **open_kw)
    ax.set_xlim(*xlim)
    ax.set_ylim(-0.10, 5.90)
    ax.set_xticks(range(len(labels)))
    ax.set_xticklabels(labels)
    ax.set_yticks(y_ticks)
    ax.set_yticklabels([str(t) for t in y_ticks], rotation=90, va="center")
    ax.set_xlabel(xlabel, fontsize=10, labelpad=4)
    ax.set_ylabel(ylab, fontsize=10)
    ax.yaxis.set_label_coords(ylab_x, 0.5)
    ax.tick_params(axis="both", direction="out", length=3.2, width=0.8,
                   color="#444444", labelsize=9.5, labelcolor="black")
    ax.tick_params(axis="x", pad=3.5)
    ax.tick_params(axis="y", pad=ypad)
    for sp in ax.spines.values():
        sp.set_visible(True)
        sp.set_color("#555555")
        sp.set_linewidth(1.0)

fig.text(0.5, 1 - 15 / 438, title, ha="center", va="center", fontsize=9.2,
         family=["Lato", "DejaVu Sans"])

fig.savefig("out.png", dpi=100)
